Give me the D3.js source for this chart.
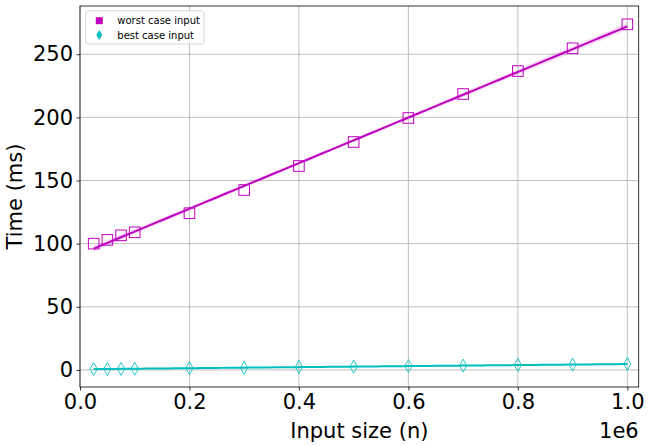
<!DOCTYPE html>
<html><head><meta charset="utf-8">
<script src="https://cdn.jsdelivr.net/npm/d3@7"></script>
<style>body{margin:0;background:#fff}svg{display:block;font-family:"DejaVu Sans",sans-serif}</style>
</head><body><svg id="c" width="651" height="445"></svg>
<script>
const inputSizes = [25000, 50000, 75000, 100000, 200000, 300000, 400000, 500000, 600000, 700000, 800000, 900000, 1000000];
const worstCase = [100, 103, 106.6, 109, 124.1, 142.5, 161.5, 180.5, 199.5, 218.5, 236.7, 254.7, 273.7];
const bestCase = [0.7, 0.8, 0.9, 1.0, 1.4, 1.7, 2.3, 2.6, 3.1, 3.4, 3.9, 4.2, 4.7];
const xTicks = [0, 200000, 400000, 600000, 800000, 1000000];
const xTickLabels = ["0.0", "0.2", "0.4", "0.6", "0.8", "1.0"];
const yTicks = [0, 50, 100, 150, 200, 250];
const seriesNames = ["worst case input", "best case input"];

const W = 651, H = 445;
const m = {l: 80, r: 651 - 638.7, t: 6, b: 445 - 387};
const svg = d3.select("#c");
const x = d3.scaleLinear().domain([0, 1020800]).range([m.l, W - m.r]);
const y = d3.scaleLinear().domain([-13.5, 288.2]).range([H - m.b, m.t]);

// grid
const g = svg.append("g");
g.selectAll(".gx").data(xTicks).join("line")
  .attr("x1", d => x(d)).attr("x2", d => x(d)).attr("y1", m.t).attr("y2", H - m.b)
  .attr("stroke", "#b0b0b0").attr("stroke-width", 0.8);
g.selectAll(".gy").data(yTicks).join("line")
  .attr("x1", m.l).attr("x2", W - m.r).attr("y1", d => y(d)).attr("y2", d => y(d))
  .attr("stroke", "#b0b0b0").attr("stroke-width", 0.8);

function fit(xs, ys) {
  const n = xs.length, mx = d3.mean(xs), my = d3.mean(ys);
  let sxy = 0, sxx = 0;
  for (let i = 0; i < n; i++) { sxy += (xs[i]-mx)*(ys[i]-my); sxx += (xs[i]-mx)**2; }
  const b = sxy / sxx, a = my - b * mx;
  let sse = 0;
  for (let i = 0; i < n; i++) sse += (ys[i] - a - b*xs[i])**2;
  const s = Math.sqrt(sse / (n - 2));
  const xmin = d3.min(xs), xmax = d3.max(xs);
  const pts = d3.range(0, 101).map(k => {
    const xv = xmin + (xmax - xmin) * k / 100;
    const yv = a + b * xv;
    const h = 2.2 * s * Math.sqrt(1/n + (xv-mx)**2/sxx);
    return {x: xv, y: yv, lo: yv - h, hi: yv + h};
  });
  return pts;
}

const series = [
  {vals: worstCase, color: "#bf00bf", shape: "square"},
  {vals: bestCase, color: "#00bfbf", shape: "diamond"}
];

series.forEach(s => {
  const pts = fit(inputSizes, s.vals);
  svg.append("path").datum(pts)
    .attr("d", d3.area().x(d => x(d.x)).y0(d => y(d.lo)).y1(d => y(d.hi)))
    .attr("fill", s.color).attr("opacity", 0.15);
  svg.append("path").datum(pts)
    .attr("d", d3.line().x(d => x(d.x)).y(d => y(d.y)))
    .attr("fill", "none").attr("stroke", s.color).attr("stroke-width", 2);
  const pg = svg.append("g");
  if (s.shape === "square") {
    pg.selectAll("rect").data(inputSizes).join("rect")
      .attr("x", (d) => x(d) - 5.3).attr("y", (d, i) => y(s.vals[i]) - 5.3)
      .attr("width", 10.6).attr("height", 10.6)
      .attr("fill", "none").attr("stroke", s.color).attr("stroke-width", 1);
  } else {
    pg.selectAll("path").data(inputSizes).join("path")
      .attr("d", (d, i) => { const cx = x(d), cy = y(s.vals[i]);
        return `M${cx},${cy-6.5}L${cx+3.6},${cy}L${cx},${cy+6.5}L${cx-3.6},${cy}Z`; })
      .attr("fill", "none").attr("stroke", s.color).attr("stroke-width", 1).attr("opacity", 0.85);
  }
});

// spines
svg.append("rect").attr("x", m.l).attr("y", m.t).attr("width", W - m.r - m.l).attr("height", H - m.b - m.t)
  .attr("fill", "none").attr("stroke", "#000").attr("stroke-width", 0.8);

// axes
const xa = svg.append("g").attr("transform", `translate(0,${H - m.b})`)
  .call(d3.axisBottom(x).tickValues(xTicks).tickFormat((d, i) => xTickLabels[i]).tickSize(3.5).tickPadding(3.5));
const ya = svg.append("g").attr("transform", `translate(${m.l},0)`)
  .call(d3.axisLeft(y).tickValues(yTicks).tickSize(3.5).tickPadding(3.5));
[xa, ya].forEach(a => {
  a.select(".domain").remove();
  a.selectAll("line").attr("stroke", "#000").attr("stroke-width", 0.8);
  a.selectAll("text").attr("font-size", 21).attr("font-family", "DejaVu Sans").attr("fill", "#000");
});

svg.append("text").attr("x", (m.l + W - m.r)/2).attr("y", 438).attr("text-anchor", "middle")
  .attr("font-size", 21).text("Input size (n)");
svg.append("text").attr("x", W - m.r).attr("y", 438).attr("text-anchor", "end")
  .attr("font-size", 21).text("1e6");
svg.append("text").attr("transform", `translate(22,${(m.t + H - m.b)/2}) rotate(-90)`).attr("text-anchor", "middle")
  .attr("font-size", 21).text("Time (ms)");

// legend
const lg = svg.append("g");
lg.append("rect").attr("x", 85.7).attr("y", 10.7).attr("width", 118.3).attr("height", 33.3).attr("rx", 2.5)
  .attr("fill", "#fff").attr("fill-opacity", 0.8).attr("stroke", "#cccccc").attr("stroke-width", 0.8);
lg.append("rect").attr("x", 99.3 - 3.5).attr("y", 20.7 - 3.5).attr("width", 7).attr("height", 7).attr("fill", series[0].color);
lg.append("path").attr("d", `M99.3,${35-5}L${99.3+3}, 35L99.3,${35+5}L${99.3-3},35Z`).attr("fill", series[1].color);
lg.selectAll(".lt").data(seriesNames).join("text")
  .attr("x", 117.3).attr("y", (d, i) => 24.3 + i * 14.4).attr("font-size", 10).attr("fill", "#000").text(d => d);
</script></body></html>
